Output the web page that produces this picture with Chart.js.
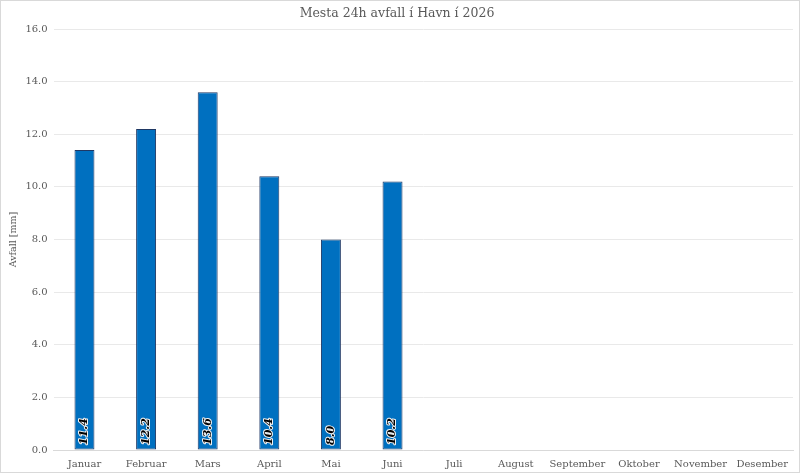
<!DOCTYPE html>
<html>
<head>
<meta charset="utf-8">
<script src="https://cdn.jsdelivr.net/npm/chart.js@4"></script>
<style>
  html, body { margin: 0; padding: 0; background: #fff; }
  #wrap { width: 798px; height: 471px; border: 1px solid #d9d9d9; }
</style>
</head>
<body>
<div id="wrap"><canvas id="chart1"></canvas></div>
<script>
const maanadir = ['Januar', 'Februar', 'Mars', 'April', 'Mai', 'Juni', 'Juli', 'August', 'September', 'Oktober', 'November', 'Desember'];
const mestaAvfall = [11.4, 12.2, 13.6, 10.4, 8.0, 10.2, null, null, null, null, null, null];
const yTicks = [0, 2, 4, 6, 8, 10, 12, 14, 16];

const serif = "'DejaVu Serif', 'Liberation Serif', serif";

// labels standing up inside the bars, at the base
const barLabels = {
    id: 'barLabels',
    afterDatasetsDraw(chart) {
        const ctx = chart.ctx;
        const meta = chart.getDatasetMeta(0);
        const base = chart.scales.y.getPixelForValue(0);
        ctx.save();
        ctx.font = "italic bold 11px " + serif;
        ctx.textAlign = 'left';
        ctx.textBaseline = 'middle';
        ctx.lineJoin = 'round';
        meta.data.forEach(function (bar, i) {
            const v = mestaAvfall[i];
            if (v === null) return;
            ctx.save();
            ctx.translate(bar.x, base - 5);
            ctx.rotate(-Math.PI / 2);
            const txt = v.toFixed(1);
            ctx.lineWidth = 2;
            ctx.strokeStyle = '#f2f2f2';
            ctx.strokeText(txt, 0, 0);
            ctx.fillStyle = '#000000';
            ctx.fillText(txt, 0, 0);
            ctx.restore();
        });
        ctx.restore();
    }
};

const data1 = {
    labels: maanadir,
    datasets: [{
        label: 'Avfall',
        data: mestaAvfall,
        backgroundColor: '#0070C0',
        borderColor: '#1F3864',
        borderWidth: 1,
        borderSkipped: false,
        barPercentage: 0.324,
        categoryPercentage: 1.0
    }]
};

const config1 = {
    type: 'bar',
    data: data1,
    plugins: [barLabels],
    options: {
        responsive: true,
        maintainAspectRatio: false,
        animation: false,
        layout: { padding: { left: 0, right: 6, top: 0, bottom: -6 } },
        plugins: {
            legend: { display: false },
            tooltip: { enabled: false },
            title: {
                display: true,
                text: 'Mesta 24h avfall í Havn í 2026',
                color: '#595959',
                font: { family: serif, size: 12.5, weight: 'normal' },
                padding: { top: 5, bottom: 8 }
            }
        },
        scales: {
            x: {
                grid: { display: false, drawTicks: false },
                border: { color: '#d9d9d9' },
                ticks: {
                    color: '#595959',
                    font: { family: serif, size: 10 },
                    maxRotation: 0,
                    autoSkip: false,
                    padding: 8
                }
            },
            y: {
                min: 0,
                max: 16,
                afterBuildTicks(axis) {
                    axis.ticks = yTicks.map(function (v) { return { value: v }; });
                },
                grid: { color: '#e9e9e9', drawTicks: false },
                border: { display: false },
                ticks: {
                    color: '#595959',
                    font: { family: serif, size: 10 },
                    padding: 6,
                    callback: function (v) { return Number(v).toFixed(1); }
                },
                title: {
                    display: true,
                    text: 'Avfall [mm]',
                    color: '#595959',
                    font: { family: serif, size: 9.5 },
                    padding: { top: 7, bottom: 0 }
                }
            }
        }
    }
};

new Chart(document.getElementById('chart1').getContext('2d'), config1);
</script>
</body>
</html>
